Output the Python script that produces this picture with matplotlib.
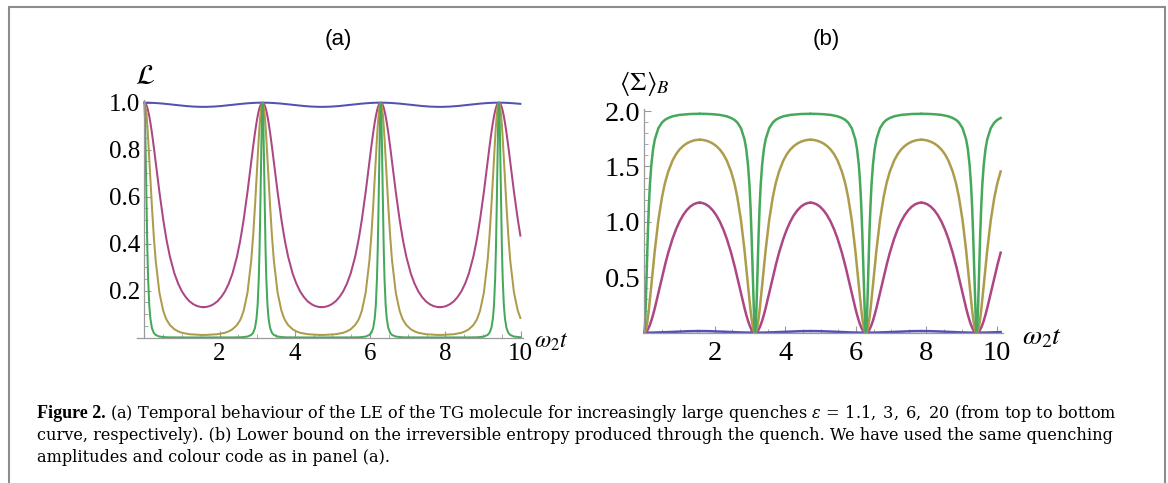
import numpy as np
import matplotlib.pyplot as plt
from matplotlib.ticker import MultipleLocator
from matplotlib.patches import Rectangle

plt.rcParams['font.family'] = ['Liberation Serif', 'DejaVu Serif']
plt.rcParams['mathtext.fontset'] = 'stix'

W, H = 1168, 483

# omega_2 t measured from the nearest revival (curves repeat with period pi)
dt = [0, 0.02, 0.04, 0.06, 0.08, 0.1, 0.13, 0.16, 0.2, 0.25, 0.3, 0.4, 0.5,
      0.57, 0.6, 0.68, 0.8, 0.9, 1.0, 1.1, 1.2, 1.3, 1.4, 1.5, 1.571]

# panel (a): Loschmidt echo, eps = 1.1, 3, 6, 20
le_eps1 = [1.0, 1.0, 1.0, 0.9999, 0.9999, 0.9998, 0.9997, 0.9995, 0.9993, 0.9989,
           0.9984, 0.9973, 0.9959, 0.9948, 0.9943, 0.9929, 0.9908, 0.9890, 0.9873,
           0.9857, 0.9844, 0.9833, 0.9826, 0.9821, 0.9820]
le_eps3 = [1.0, 0.9986, 0.9943, 0.9873, 0.9777, 0.9655, 0.9428, 0.9154, 0.873, 0.813,
           0.749, 0.620, 0.504, 0.434, 0.407, 0.344, 0.272, 0.229, 0.196, 0.172,
           0.154, 0.142, 0.134, 0.130, 0.129]
le_eps6 = [1.0, 0.993, 0.973, 0.942, 0.900, 0.850, 0.766, 0.677, 0.561, 0.433,
           0.329, 0.191, 0.115, 0.083, 0.073, 0.053, 0.035, 0.026, 0.020, 0.017,
           0.014, 0.013, 0.012, 0.011, 0.011]
le_eps20 = [1.0, 0.925, 0.744, 0.542, 0.374, 0.252, 0.140, 0.081, 0.041, 0.020,
            0.011, 0.004, 0.002, 0.001, 0.001, 0.0006, 0.0004, 0.0003, 0.0002,
            0.0002, 0.0001, 0.0001, 0.0001, 0.0001, 0.0001]

# panel (b): lower bound on the irreversible entropy
sig_eps1 = [0, 0, 0, 0, 0.0001, 0.0001, 0.0002, 0.0004, 0.0006, 0.0009, 0.0013,
            0.0022, 0.0034, 0.0043, 0.0047, 0.0058, 0.0076, 0.0091, 0.0104, 0.0117,
            0.0128, 0.0137, 0.0143, 0.0147, 0.0148]
sig_eps3 = [0, 0.0012, 0.0046, 0.0103, 0.0183, 0.0283, 0.0473, 0.0706, 0.1076, 0.162,
            0.223, 0.358, 0.495, 0.588, 0.626, 0.722, 0.846, 0.932, 1.003, 1.060,
            1.104, 1.137, 1.159, 1.171, 1.173]
sig_eps6 = [0, 0.0055, 0.0218, 0.0484, 0.0844, 0.128, 0.207, 0.297, 0.426, 0.590,
            0.746, 1.015, 1.217, 1.326, 1.365, 1.454, 1.552, 1.610, 1.653, 1.684,
            1.707, 1.723, 1.734, 1.740, 1.741]
sig_eps20 = [0, 0.062, 0.228, 0.448, 0.676, 0.885, 1.143, 1.335, 1.513, 1.656,
             1.745, 1.845, 1.895, 1.916, 1.923, 1.937, 1.952, 1.959, 1.965, 1.968,
             1.971, 1.973, 1.974, 1.975, 1.975]

colours = ['#5252b4', '#ac4684', '#ad9c4c', '#45a85a']

caption = [
    "(a) Temporal behaviour of the LE of the TG molecule for increasingly large quenches "
    r"$\epsilon\,=\,1.1,\;3,\;6,\;20$ (from top to bottom",
    "curve, respectively). (b) Lower bound on the irreversible entropy produced through the quench. "
    "We have used the same quenching",
    "amplitudes and colour code as in panel (a).",
]


def periodic(vals, tmax):
    d = np.array(dt)
    v = np.array(vals)
    xs, ys = [d], [v]
    for k in range(1, 4):
        c = k * np.pi
        xs += [c - d[::-1], c + d[1:]]
        ys += [v[::-1], v[1:]]
    x = np.concatenate(xs)
    y = np.concatenate(ys)
    keep = x <= tmax
    return x[keep], y[keep]


def style(ax, xlim, ylim, yticks, ymin, fs, xpad):
    ax.set_xlim(*xlim)
    ax.set_ylim(*ylim)
    ax.patch.set_visible(False)
    for s in ['top', 'right']:
        ax.spines[s].set_visible(False)
    ax.spines['left'].set_position(('data', 0))
    for s in ['left', 'bottom']:
        ax.spines[s].set_color('#9a9a9a')
        ax.spines[s].set_linewidth(0.9)
    ax.set_xticks([2, 4, 6, 8, 10])
    ax.set_xticklabels(['2', '4', '6', '8', '10'], family='Liberation Serif')
    ax.xaxis.set_minor_locator(MultipleLocator(0.5))
    ax.set_yticks(yticks)
    ax.set_yticklabels(['%.1f' % v for v in yticks], family='Liberation Serif')
    ax.yaxis.set_minor_locator(MultipleLocator(ymin))
    ax.tick_params(which='both', direction='in', color='#9a9a9a', labelsize=fs)
    ax.tick_params(which='major', length=5, width=0.8)
    ax.tick_params(which='minor', length=3, width=0.6)
    ax.tick_params(axis='x', pad=xpad)
    ax.tick_params(axis='y', pad=3)


fig = plt.figure(figsize=(W / 100, H / 100), dpi=100)

# panel (a)
axa = fig.add_axes([137.2 / W, (H - 337.5) / H, 386.0 / W, 237.2 / H])
for vals, c in zip([le_eps1, le_eps3, le_eps6, le_eps20], colours):
    x, y = periodic(vals, 10.0)
    axa.plot(x, y, color=c, lw=1.45)
style(axa, (-0.19, 10.07), (0, 1.01), [0.2, 0.4, 0.6, 0.8, 1.0], 0.05, 18, 4)

# panel (b)
axb = fig.add_axes([642.5 / W, (H - 332.7) / H, 360.1 / W, 223.9 / H])
for vals, c in zip([sig_eps1, sig_eps3, sig_eps6, sig_eps20], colours):
    x, y = periodic(vals, 10.11)
    axb.plot(x, y, color=c, lw=1.8)
style(axb, (-0.05, 10.16), (0, 2.02), [0.5, 1.0, 1.5, 2.0], 0.1, 20.5, 6)


def px(x, y):
    return x / W, 1 - y / H


fig.text(*px(338, 40), '(a)', family='Liberation Sans', fontsize=16, ha='center', va='center')
fig.text(*px(826, 40), '(b)', family='Liberation Sans', fontsize=16, ha='center', va='center')
fig.text(*px(145, 77), r'$\mathcal{L}$', fontsize=20, ha='center', va='center')
fig.text(*px(644, 84), r'$\langle\Sigma\rangle_B$', fontsize=19, ha='center', va='center')
fig.text(*px(534, 342), r'$\omega_2 t$', fontsize=17, ha='left', va='center')
fig.text(*px(1022, 338), r'$\omega_2 t$', fontsize=20, ha='left', va='center')

# caption: body size fitted so the second line ends where the reference line ends
renderer = fig.canvas.get_renderer()
t = fig.text(*px(37, 418), 'Figure 2.', family='Liberation Serif', fontsize=13,
             weight='bold', va='baseline')
x1 = t.get_window_extent(renderer).x1
kw = dict(family='DejaVu Serif', math_fontfamily='dejavuserif', fontsize=12, va='baseline')
lines = [fig.text((x1 + 4) / W, 1 - 418 / H, caption[0], **kw),
         fig.text(*px(37, 440), caption[1], **kw),
         fig.text(*px(37, 462), caption[2], **kw)]
w0 = lines[1].get_window_extent(renderer).width
fs = 12 * (1108 - 37) / w0
for ln in lines:
    ln.set_fontsize(fs)

fig.patches.append(Rectangle((9 / W, -0.1), 1156 / W, 1.1 - 7 / H, transform=fig.transFigure,
                             fill=False, edgecolor='#8c8c8c', lw=1.5))

fig.savefig('out.png', dpi=100)
